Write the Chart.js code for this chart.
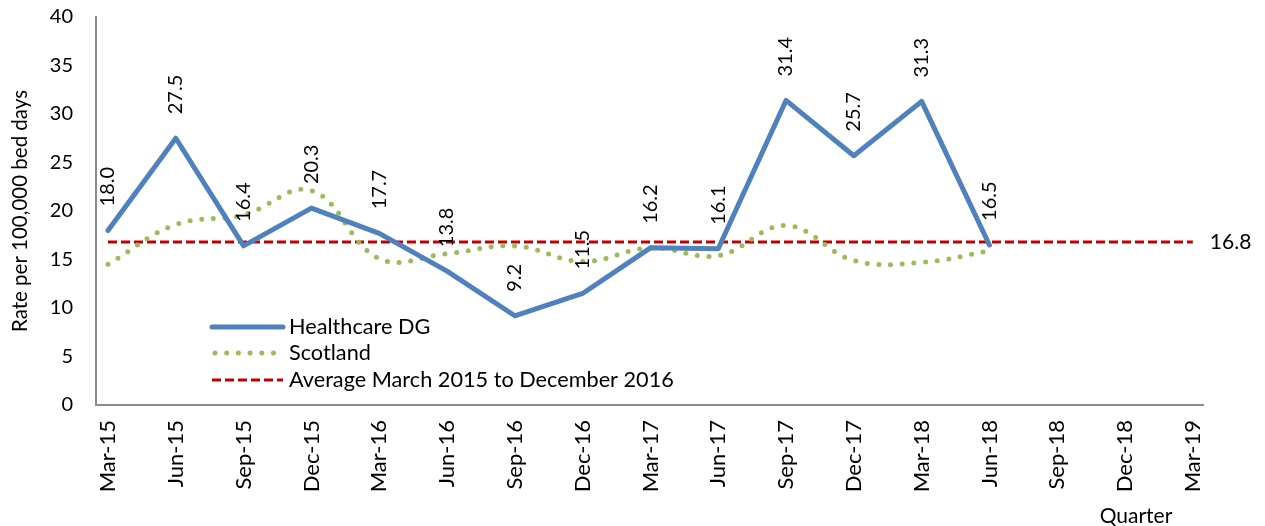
<!DOCTYPE html>
<html>
<head>
<meta charset="utf-8">
<script src="https://cdn.jsdelivr.net/npm/chart.js@4.4.1/dist/chart.umd.min.js"></script>
<style>
html,body{margin:0;padding:0;background:#fff;}
#c{display:block;}
</style>
</head>
<body>
<canvas id="c" width="1265" height="526"></canvas>
<script>
const quarters = ["Mar-15","Jun-15","Sep-15","Dec-15","Mar-16","Jun-16","Sep-16","Dec-16","Mar-17","Jun-17","Sep-17","Dec-17","Mar-18","Jun-18","Sep-18","Dec-18","Mar-19"];
const healthcareDG = [18.0,27.5,16.4,20.3,17.7,13.8,9.2,11.5,16.2,16.1,31.4,25.7,31.3,16.5];
const scotland = [14.5,18.6,19.6,22.1,15.1,15.6,16.4,14.8,16.2,15.4,18.5,14.9,14.7,15.9];
const averageValue = 16.8;
const average = quarters.map(() => averageValue);
const yTicks = [0,5,10,15,20,25,30,35,40];
const seriesNames = ["Healthcare DG","Scotland","Average March 2015 to December 2016"];

const FONT = 'Lato';
Chart.defaults.font.family = FONT;
Chart.defaults.color = '#000';

const toXY = arr => arr.map((v,i)=>({x:i,y:v}));

const labelPlugin = {
  id:'labels',
  afterDatasetsDraw(chart){
    const ctx = chart.ctx;
    ctx.save();
    ctx.fillStyle = '#000';
    ctx.font = '20px ' + FONT;
    // rotated data labels for Healthcare DG
    const m0 = chart.getDatasetMeta(0);
    m0.data.forEach((pt,i)=>{
      ctx.save();
      ctx.translate(pt.x, pt.y - 24);
      ctx.rotate(-Math.PI/2);
      ctx.textAlign='left';
      ctx.textBaseline='middle';
      ctx.fillText(healthcareDG[i].toFixed(1),0,0);
      ctx.restore();
    });
    // average label at the end
    const m2 = chart.getDatasetMeta(2);
    const last = m2.data[m2.data.length-1];
    ctx.font = '21px ' + FONT;
    ctx.textAlign='left';
    ctx.textBaseline='middle';
    ctx.fillText(averageValue.toFixed(1), last.x + 17, last.y);
    // x axis title
    ctx.textAlign='center';
    ctx.fillText('Quarter', 1136, 516);
    // legend
    ctx.font = '21.7px ' + FONT;
    const rows=[327,353,380];
    chart.data.datasets.forEach((ds,i)=>{
      const y=rows[i];
      ctx.save();
      ctx.strokeStyle=ds.borderColor;
      ctx.lineWidth=ds.borderWidth;
      ctx.lineCap=ds.borderCapStyle||'butt';
      ctx.setLineDash(ds.borderDash||[]);
      ctx.beginPath();
      if(i===1){ctx.moveTo(215,y);ctx.lineTo(283,y);} else {ctx.moveTo(212,y);ctx.lineTo(283,y);}
      ctx.stroke();
      ctx.restore();
      ctx.textAlign='left';
      ctx.textBaseline='middle';
      ctx.fillText(ds.label,289,y);
    });
    ctx.restore();
  }
};

new Chart(document.getElementById('c'),{
  type:'line',
  data:{
    datasets:[
      {label:seriesNames[0],data:toXY(healthcareDG),borderColor:'#4F81BD',borderWidth:5,pointRadius:0,tension:0,borderJoinStyle:'round',borderCapStyle:'round'},
      {label:seriesNames[1],data:toXY(scotland),borderColor:'#9BBB59',borderWidth:5,borderDash:[0,11.7],borderCapStyle:'round',pointRadius:0,tension:0.4},
      {label:seriesNames[2],data:toXY(average),borderColor:'#C00000',borderWidth:3,borderDash:[9,4],pointRadius:0,tension:0}
    ]
  },
  options:{
    responsive:false,
    animation:false,
    events:[],
    layout:{padding:{top:17,right:62,left:0,bottom:0}},
    plugins:{legend:{display:false},tooltip:{enabled:false}},
    scales:{
      x:{
        type:'linear',
        min:-0.177,max:16.15,
        afterFit(s){s.height=121;s.paddingLeft=0;s.paddingRight=0;},
        afterBuildTicks(s){s.ticks=quarters.map((q,i)=>({value:i}));},
        ticks:{autoSkip:false,maxRotation:90,minRotation:90,padding:15,font:{size:22},color:'#000',
          callback:(v)=>quarters[v]},
        grid:{drawOnChartArea:false,drawTicks:false},
        border:{display:true,color:'#8C8C8C',width:2}
      },
      y:{
        min:0,max:40,
        afterFit(s){s.width=96;s.paddingTop=0;s.paddingBottom=0;},
        afterBuildTicks(s){s.ticks=yTicks.map(v=>({value:v}));},
        ticks:{padding:23,font:{size:20},color:'#000'},
        grid:{drawOnChartArea:false,drawTicks:false},
        border:{display:true,color:'#8C8C8C',width:2},
        title:{display:true,text:'Rate per 100,000 bed days',font:{size:20.5},color:'#000',padding:{top:8,bottom:0}}
      }
    }
  },
  plugins:[labelPlugin]
});
</script>
</body>
</html>
